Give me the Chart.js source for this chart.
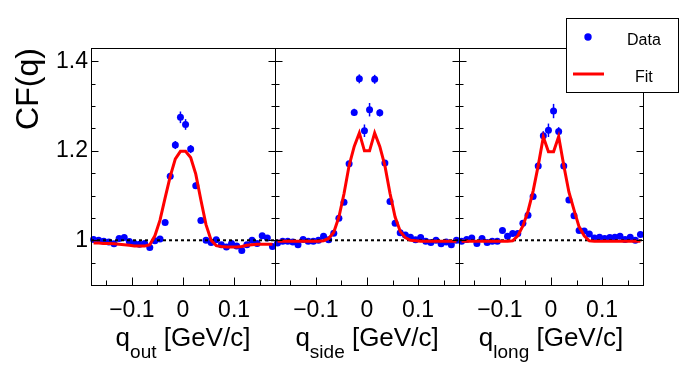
<!DOCTYPE html>
<html>
<head>
<meta charset="utf-8">
<script src="https://cdn.jsdelivr.net/npm/chart.js@4.4.1/dist/chart.umd.min.js"></script>
<style>
  html, body { margin: 0; padding: 0; background: #fff; }
  #wrap { position: relative; width: 698px; height: 371px; }
  #wrap canvas { position: absolute; left: 0; top: 0; }
</style>
</head>
<body>
<div id="wrap">
  <canvas id="cOut" width="698" height="371"></canvas>
  <canvas id="cSide" width="698" height="371"></canvas>
  <canvas id="cLong" width="698" height="371"></canvas>
</div>
<script>
// bin centres (GeV/c)
const qBins = [-0.175, -0.165, -0.155, -0.145, -0.135, -0.125, -0.115, -0.105, -0.095, -0.085,
  -0.075, -0.065, -0.055, -0.045, -0.035, -0.025, -0.015, -0.005, 0.005, 0.015,
  0.025, 0.035, 0.045, 0.055, 0.065, 0.075, 0.085, 0.095, 0.105, 0.115,
  0.125, 0.135, 0.145, 0.155, 0.165, 0.175]

// q_out
const cfOut = [1.002, 1.000, 0.998, 0.996, 0.992, 1.004, 1.006, 0.997, 0.993, 0.991,
  0.993, 0.984, 0.999, 1.003, 1.040, 1.143, 1.213, 1.275, 1.259, 1.204,
  1.122, 1.044, 1.000, 0.995, 1.001, 0.990, 0.985, 0.993, 0.987, 0.977,
  0.990, 1.000, 0.993, 1.010, 1.005, 0.986]
const fitOut = [0.994, 0.994, 0.993, 0.993, 0.992, 0.991, 0.990, 0.989, 0.987, 0.987,
  0.987, 0.990, 1.010, 1.045, 1.095, 1.143, 1.182, 1.199, 1.199, 1.185,
  1.148, 1.090, 1.035, 1.000, 0.988, 0.986, 0.985, 0.985, 0.985, 0.986,
  0.989, 0.990, 0.991, 0.991, 0.991, 0.991]
const errOut = [0.004, 0.004, 0.004, 0.004, 0.004, 0.004, 0.004, 0.004, 0.004, 0.004,
  0.004, 0.004, 0.004, 0.004, 0.005, 0.007, 0.009, 0.013, 0.012, 0.009,
  0.007, 0.005, 0.004, 0.004, 0.004, 0.004, 0.004, 0.004, 0.004, 0.004,
  0.004, 0.004, 0.004, 0.004, 0.004, 0.004]

// q_side
const cfSide = [0.994, 0.998, 0.998, 0.996, 0.990, 1.002, 0.998, 0.998, 1.000, 1.009,
  1.001, 1.016, 1.049, 1.085, 1.171, 1.286, 1.361, 1.245, 1.292, 1.360,
  1.285, 1.173, 1.087, 1.038, 1.017, 1.012, 1.007, 1.001, 1.006, 0.998,
  0.995, 1.000, 0.992, 0.996, 0.990, 1.000]
const fitSide = [0.998, 0.998, 0.998, 0.998, 0.998, 0.998, 0.998, 0.998, 0.998, 0.999,
  1.004, 1.018, 1.052, 1.104, 1.167, 1.210, 1.240, 1.200, 1.200, 1.240,
  1.210, 1.167, 1.105, 1.052, 1.020, 1.006, 1.000, 0.999, 0.998, 0.998,
  0.998, 0.998, 0.998, 0.998, 0.998, 0.998]
const errSide = [0.004, 0.004, 0.004, 0.004, 0.004, 0.004, 0.004, 0.004, 0.004, 0.004,
  0.004, 0.004, 0.004, 0.005, 0.006, 0.008, 0.010, 0.014, 0.015, 0.010,
  0.008, 0.006, 0.005, 0.004, 0.004, 0.004, 0.004, 0.004, 0.004, 0.004,
  0.004, 0.004, 0.004, 0.004, 0.004, 0.004]

// q_long
const cfLong = [0.998, 1.002, 1.005, 0.993, 1.004, 0.995, 0.998, 0.998, 1.022, 1.009,
  1.015, 1.015, 1.038, 1.056, 1.098, 1.166, 1.234, 1.246, 1.289, 1.243,
  1.166, 1.090, 1.055, 1.022, 1.021, 1.014, 1.005, 1.007, 1.004, 1.006,
  1.007, 1.009, 1.002, 1.007, 1.000, 1.013]
const fitLong = [0.998, 0.998, 0.998, 0.998, 0.998, 0.998, 0.998, 0.998, 0.998, 0.998,
  0.999, 1.010, 1.032, 1.065, 1.110, 1.167, 1.231, 1.198, 1.198, 1.232,
  1.167, 1.108, 1.068, 1.030, 1.010, 0.999, 0.998, 0.998, 0.998, 0.998,
  0.998, 0.998, 0.998, 0.998, 0.998, 0.998]
const errLong = [0.004, 0.004, 0.004, 0.004, 0.004, 0.004, 0.004, 0.004, 0.004, 0.004,
  0.004, 0.004, 0.004, 0.005, 0.006, 0.008, 0.010, 0.015, 0.016, 0.010,
  0.008, 0.006, 0.005, 0.004, 0.004, 0.004, 0.004, 0.004, 0.004, 0.004,
  0.004, 0.004, 0.004, 0.004, 0.004, 0.004]

const xTicks = [-0.1, 0, 0.1]
const xMinor = [-0.15, -0.05, 0.05, 0.15]
const yTicks = [1, 1.2, 1.4]
const yMinor = [0.95, 1.05, 1.1, 1.15, 1.25, 1.3, 1.35]
const xMin = -0.18, xMax = 0.18
const yMin = 0.9, yMax = 1.43

const FONT = '"Liberation Sans", Arial, Helvetica, sans-serif'
const BLUE = '#0000ff'
const RED = '#ff0000'

const pts = (ys) => qBins.map((q, i) => ({ x: q, y: ys[i] }))
const fmtX = (v) => v < 0 ? '\u2212' + Math.abs(v) : String(v)

const makePanel = (id, sub, cf, fit, err, pad, extra) => {
    const panelPlugin = {
        id: 'panel_' + id,
        beforeDatasetsDraw(chart) {
            // vertical error bars under the markers
            const ctx = chart.ctx, xs = chart.scales.x, ys = chart.scales.y
            ctx.save()
            ctx.strokeStyle = BLUE
            ctx.lineWidth = 1.5
            qBins.forEach((q, i) => {
                const px = xs.getPixelForValue(q)
                ctx.beginPath()
                ctx.moveTo(px, ys.getPixelForValue(cf[i] - err[i]))
                ctx.lineTo(px, ys.getPixelForValue(cf[i] + err[i]))
                ctx.stroke()
            })
            ctx.restore()
        },
        afterDraw(chart) {
            const ctx = chart.ctx, a = chart.chartArea, xs = chart.scales.x, ys = chart.scales.y
            ctx.save()
            ctx.strokeStyle = '#000'
            ctx.lineWidth = 1
            const L = Math.round(a.left) + 0.5, R = Math.round(a.right) + 0.5
            const T = Math.round(a.top) + 0.5, B = Math.round(a.bottom) + 0.5
            ctx.strokeRect(L, T, R - L, B - T)
            ctx.beginPath()
            xTicks.concat(xMinor).forEach(v => {
                const px = Math.round(xs.getPixelForValue(v)) + 0.5
                const len = xTicks.includes(v) ? 8 : 5
                ctx.moveTo(px, B); ctx.lineTo(px, B - len)
            })
            yTicks.concat(yMinor).forEach(v => {
                const py = Math.round(ys.getPixelForValue(v)) + 0.5
                const len = yTicks.includes(v) ? 7 : 4
                ctx.moveTo(L, py); ctx.lineTo(L + len, py)
                ctx.moveTo(R, py); ctx.lineTo(R - len, py)
            })
            ctx.stroke()

            // axis title with subscript
            ctx.fillStyle = '#000'
            ctx.textBaseline = 'alphabetic'
            ctx.textAlign = 'left'
            const big = `26px ${FONT}`, small = `19px ${FONT}`
            ctx.font = big
            const wq = ctx.measureText('q').width
            const wr = ctx.measureText(' [GeV/c]').width
            ctx.font = small
            const ws = ctx.measureText(sub).width
            let x0 = (a.left + a.right) / 2 - (wq + ws + wr) / 2
            ctx.font = big
            ctx.fillText('q', x0, 346)
            ctx.font = small
            ctx.fillText(sub, x0 + wq, 358)
            ctx.font = big
            ctx.fillText(' [GeV/c]', x0 + wq + ws, 346)
            ctx.restore()
            if (extra) extra(chart)
        }
    }

    const yAxis = {
        min: yMin, max: yMax,
        display: id === 'cOut',
        afterBuildTicks: (s) => { s.ticks = yTicks.map(v => ({ value: v })) },
        afterFit: (s) => { s.width = s.options.display ? 40 : 0 },
        grid: { display: false, drawTicks: false },
        border: { display: false },
        ticks: {
            padding: 3, color: '#000', autoSkip: false,
            font: { family: FONT, size: 23 },
            callback: (v) => String(v)
        }
    }

    return new Chart(document.getElementById(id), {
        type: 'scatter',
        data: {
            datasets: [
                { label: 'Fit', data: pts(fit), showLine: true, borderColor: RED, borderWidth: 3,
                  pointRadius: 0, fill: false, clip: false },
                { label: 'ref', data: [{ x: xMin, y: 1 }, { x: xMax, y: 1 }], showLine: true,
                  borderColor: '#000', borderWidth: 2, borderDash: [3, 3], pointRadius: 0 },
                { label: 'Data', data: pts(cf), backgroundColor: BLUE, borderColor: BLUE,
                  pointRadius: 3.5, borderWidth: 0, clip: false }
            ]
        },
        options: {
            responsive: false,
            animation: false,
            devicePixelRatio: 1,
            layout: { padding: pad },
            plugins: { legend: { display: false }, tooltip: { enabled: false } },
            scales: {
                x: {
                    type: 'linear', min: xMin, max: xMax,
                    afterBuildTicks: (s) => { s.ticks = xTicks.map(v => ({ value: v })) },
                    afterFit: (s) => { s.height = 40 },
                    grid: { display: false, drawTicks: false },
                    border: { display: false },
                    ticks: {
                        padding: 12, color: '#000', autoSkip: false, maxRotation: 0,
                        font: { family: FONT, size: 23 },
                        callback: (v) => fmtX(v)
                    }
                },
                y: yAxis
            }
        },
        plugins: [panelPlugin]
    })
}

const drawYTitle = (chart) => {
    const ctx = chart.ctx
    ctx.save()
    ctx.fillStyle = '#000'
    ctx.font = `32px ${FONT}`
    ctx.textAlign = 'center'
    ctx.textBaseline = 'alphabetic'
    ctx.translate(38, 89)
    ctx.rotate(-Math.PI / 2)
    ctx.fillText('CF(q)', 0, 0)
    ctx.restore()
}

const drawLegend = (chart) => {
    const ctx = chart.ctx
    ctx.save()
    ctx.fillStyle = '#fff'
    ctx.fillRect(566, 18, 112, 74)
    ctx.strokeStyle = '#000'
    ctx.lineWidth = 1
    ctx.strokeRect(566.5, 18.5, 112, 74)
    ctx.fillStyle = BLUE
    ctx.beginPath()
    ctx.arc(588, 37, 3.7, 0, Math.PI * 2)
    ctx.fill()
    ctx.strokeStyle = RED
    ctx.lineWidth = 3
    ctx.beginPath()
    ctx.moveTo(573, 74); ctx.lineTo(604, 74)
    ctx.stroke()
    ctx.fillStyle = '#000'
    ctx.font = `16px ${FONT}`
    ctx.textAlign = 'left'
    ctx.textBaseline = 'alphabetic'
    ctx.fillText('Data', 627, 45)
    ctx.fillText('Fit', 635, 82)
    ctx.restore()
}

makePanel('cOut', 'out', cfOut, fitOut, errOut, { left: 51, right: 423, top: 48, bottom: 46 }, drawYTitle)
makePanel('cSide', 'side', cfSide, fitSide, errSide, { left: 275, right: 239, top: 48, bottom: 46 })
makePanel('cLong', 'long', cfLong, fitLong, errLong, { left: 459, right: 55, top: 48, bottom: 46 }, drawLegend)
</script>
</body>
</html>
